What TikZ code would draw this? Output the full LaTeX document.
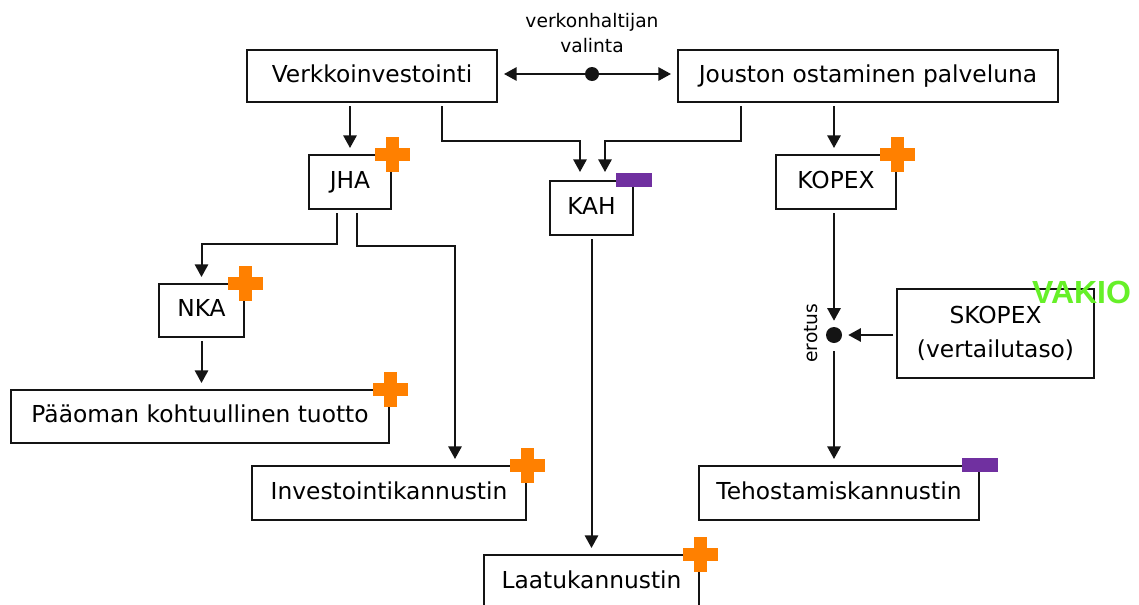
\documentclass[tikz,border=0pt]{standalone}
\usepackage{fontspec}
\setmainfont{DejaVu Sans}
\newfontfamily\tagfont{Liberation Sans}
\usetikzlibrary{arrows.meta}

\definecolor{plusorange}{RGB}{255,128,0}
\definecolor{barpurple}{RGB}{112,48,160}
\definecolor{vakiogreen}{RGB}{102,240,40}
\definecolor{ink}{RGB}{20,20,20}

\begin{document}
\begin{tikzpicture}[x=0.75pt,y=-0.75pt,
  boxbase/.style 2 args={draw=ink, line width=1.5pt, fill=white, inner sep=0pt,
    minimum width=#1*0.75pt, minimum height=#2*0.75pt,
    font=\fontsize{17.5}{25}\selectfont, align=center},
  bx/.style 2 args={boxbase={#1}{#2}, text height=12.6pt, text depth=3.4pt},
  smalltext/.style={font=\fontsize{14}{19}\selectfont, inner sep=0pt, align=center},
  junction/.style={circle, fill=ink, inner sep=0pt, minimum size=#1*0.75pt},
  conn/.style={draw=ink, line width=1.5pt, shorten <=2.25pt, shorten >=4.5pt,
    -{Triangle[length=9.5pt,width=10pt]}},
  plusmark/.pic={
    \fill[plusorange] (-17.5,-6.5) rectangle (17.5,6.5);
    \fill[plusorange] (-6.5,-17.5) rectangle (6.5,17.5);},
  minusmark/.pic={
    \fill[barpurple] (-18,-7) rectangle (18,7);}
]
\clip (0,0) rectangle (1139,604);
\fill[white] (0,0) rectangle (1139,604);

% boxes
\node[bx={250}{52}] (verk) at (372,76) {Verkkoinvestointi};
\node[bx={380}{52}] (jous) at (868,76) {Jouston ostaminen palveluna};
\node[bx={82}{54}] (jha) at (350,182) {JHA};
\node[bx={83}{54}] (kah) at (591.5,208) {KAH};
\node[bx={120}{54}] (kopex) at (836,182) {KOPEX};
\node[bx={85}{53}] (nka) at (201.5,310.5) {NKA};
\node[bx={378}{53}] (paa) at (200,416.5) {Pääoman kohtuullinen tuotto};
\node[bx={274}{54}] (inv) at (389,493) {Investointikannustin};
\node[boxbase={197}{89}] (skopex) at (995.5,333.5) {SKOPEX\\(vertailutaso)};
\node[bx={280}{54}] (teho) at (839,493) {Tehostamiskannustin};
\node[bx={215}{54}] (laatu) at (591.5,582) {Laatukannustin};

% choice between the two options
\node[junction=14] (vdot) at (592,74) {};
\node[smalltext] (vlabel) at (592,33) {verkonhaltijan\\valinta};
\draw[conn, shorten <=0pt] (vdot) -- (vdot -| verk.east);
\draw[conn, shorten <=0pt] (vdot) -- (vdot -| jous.west);

% difference point
\node[junction=16] (edot) at (834,335) {};
\node[smalltext, rotate=90] (erotus) at (811,333) {erotus};

% routing corners
\coordinate (vk) at (442,141);
\coordinate (kl) at (580,141);
\coordinate (jk) at (741,141);
\coordinate (kr) at (605,141);
\coordinate (jl) at (337,244);
\coordinate (jr) at (357,246);
\coordinate (ir) at (455,246);

% connectors
\draw[conn] (verk.south -| jha.north) -- (jha.north);
\draw[conn] (jous.south -| edot) -- (edot |- kopex.north);
\draw[conn, shorten >=6pt] (verk.south -| vk) -- (vk) -- (kl) -- (kl |- kah.north);
\draw[conn, shorten >=6pt] (jous.south -| jk) -- (jk) -- (kr) -- (kr |- kah.north);
\draw[conn] (jha.south -| jl) -- (jl) -| (nka.north);
\draw[conn] (jha.south -| jr) -- (jr) -- (ir) -- (ir |- inv.north);
\draw[conn] (nka.south) -- (nka.south |- paa.north);
\draw[conn] (kah.south) -- (kah.south |- laatu.north);
\draw[conn] (edot |- kopex.south) -- (edot);
\draw[conn] (skopex.west |- edot) -- (edot);
\draw[conn, shorten <=6pt] (edot) -- (edot |- teho.north);

% markers
\pic at (jha.north east) {plusmark};
\pic at (kopex.north east) {plusmark};
\pic at (nka.north east) {plusmark};
\pic at (paa.north east) {plusmark};
\pic at (inv.north east) {plusmark};
\pic at (laatu.north east) {plusmark};
\pic at (kah.north east) {minusmark};
\pic at (teho.north east) {minusmark};

\node[font=\tagfont\bfseries\fontsize{24}{28}\selectfont, text=vakiogreen, inner sep=0pt] (vakio) at (1081.5,292.5) {VAKIO};
\end{tikzpicture}
\end{document}
